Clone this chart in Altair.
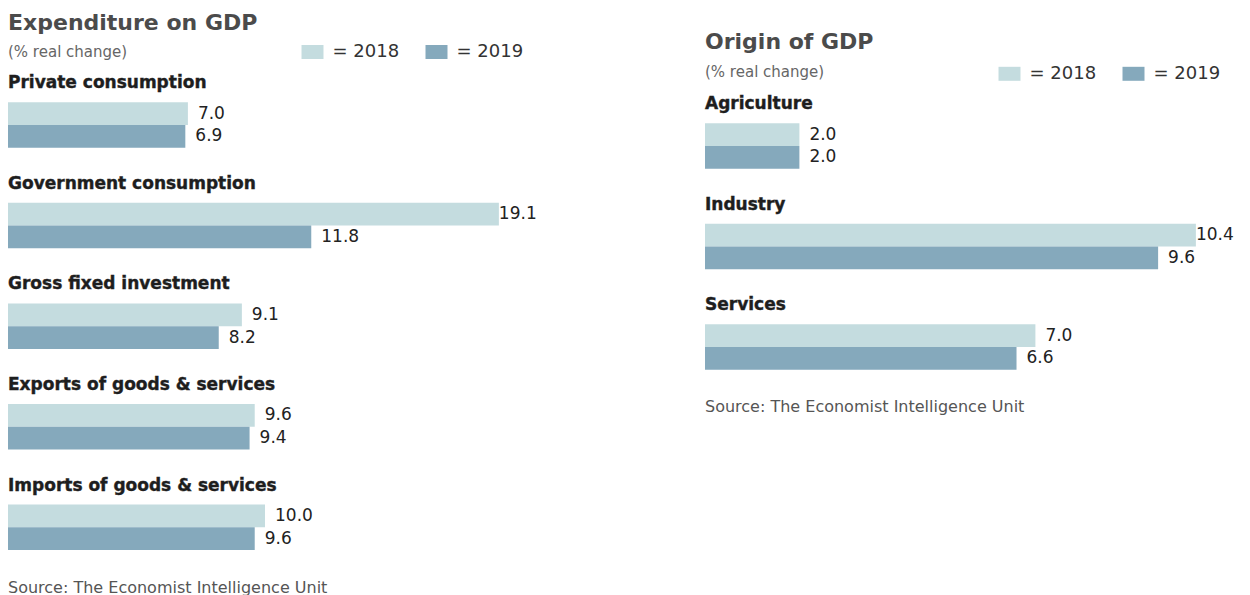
import altair as alt
import pandas as pd

# ---- data ----
years = ["2018", "2019"]

left_title = "Expenditure on GDP"
left_cats = [
    "Private consumption",
    "Government consumption",
    "Gross fixed investment",
    "Exports of goods & services",
    "Imports of goods & services",
]
left_2018 = [7.0, 19.1, 9.1, 9.6, 10.0]
left_2019 = [6.9, 11.8, 8.2, 9.4, 9.6]

right_title = "Origin of GDP"
right_cats = ["Agriculture", "Industry", "Services"]
right_2018 = [2.0, 10.4, 7.0]
right_2019 = [2.0, 9.6, 6.6]

subtitle = "(% real change)"
source = "Source: The Economist Intelligence Unit"

C18 = "#c4dcdf"
C19 = "#85a9bc"
FONT = "DejaVu Sans"
H = 587


def panel(title, cats, v18, v19, width, px_per_unit, yrange, pin,
          title_y, sub_y, legend_y, source_y):
    n = len(cats)
    df = pd.DataFrame({
        "cat": cats * 2,
        "year": [years[0]] * n + [years[1]] * n,
        "value": v18 + v19,
    })
    xs = alt.Scale(domain=[0, width / px_per_unit], nice=False, zero=True)
    ys = alt.Scale(range=list(yrange), paddingInner=pin, paddingOuter=0)
    base = alt.Chart(df)
    yenc = alt.Y("cat:N", sort=cats, scale=ys, axis=None)
    yoff = alt.YOffset("year:N", sort=years)

    bars = base.mark_bar().encode(
        x=alt.X("value:Q", scale=xs, axis=None),
        y=yenc,
        yOffset=yoff,
        color=alt.Color(
            "year:N",
            scale=alt.Scale(domain=years, range=[C18, C19]),
            legend=alt.Legend(
                title=None, orient="none", legendX=293.5, legendY=legend_y,
                direction="horizontal",
                symbolType="M-1,-0.636H1V0.636H-1Z", symbolSize=484,
                symbolStrokeWidth=0, symbolOpacity=1,
                labelFont=FONT, labelFontSize=18, labelColor="#333",
                labelOffset=9, columnPadding=26, padding=0,
                labelExpr="'= ' + datum.label",
            ),
        ),
    )

    agg = base.transform_joinaggregate(maxv="max(value)")
    txt_kw = dict(align="left", baseline="middle", font=FONT, fontSize=17, color="#222")
    vals = agg.transform_filter("datum.value < datum.maxv").mark_text(dx=10, **txt_kw).encode(
        x=alt.X("value:Q"), y=alt.Y("cat:N", sort=cats), yOffset=yoff,
        text=alt.Text("value:Q", format=".1f"),
    )
    vals_max = agg.transform_filter("datum.value >= datum.maxv").mark_text(dx=0, **txt_kw).encode(
        x=alt.X("value:Q"), y=alt.Y("cat:N", sort=cats), yOffset=yoff,
        text=alt.Text("value:Q", format=".1f"),
    )

    cat_df = pd.DataFrame({"cat": cats})
    cat_lbl = alt.Chart(cat_df).mark_text(
        align="left", baseline="alphabetic", dy=-14, font=FONT, fontSize=17,
        fontWeight="bold", color="#1e1e1e", stroke="#1e1e1e", strokeWidth=0.4,
    ).encode(
        x=alt.value(0),
        y=alt.Y("cat:N", sort=cats, bandPosition=0),
        text="cat:N",
    )

    t = alt.Chart(pd.DataFrame({"t": [title]})).mark_text(
        align="left", baseline="alphabetic", font=FONT, fontSize=22,
        fontWeight="bold", color="#4b4b4b",
    ).encode(x=alt.value(0), y=alt.value(title_y), text="t:N")
    st = alt.Chart(pd.DataFrame({"t": [subtitle]})).mark_text(
        align="left", baseline="middle", font=FONT, fontSize=15, color="#666",
    ).encode(x=alt.value(0), y=alt.value(sub_y), text="t:N")
    src = alt.Chart(pd.DataFrame({"t": [source]})).mark_text(
        align="left", baseline="middle", font=FONT, fontSize=16, color="#555",
    ).encode(x=alt.value(0), y=alt.value(source_y), text="t:N")

    return alt.layer(bars, vals, vals_max, cat_lbl, t, st, src).properties(
        width=width, height=H
    )


left = panel(left_title, left_cats, left_2018, left_2019, 560, 25.7,
             (94.3, 542.0), 0.548, 22, 44, 33, 580)
right = panel(right_title, right_cats, right_2018, right_2019, 537, 47.2,
              (115.3, 361.8), 0.547, 41, 64, 54.8, 399)

chart = alt.hconcat(left, right, spacing=137, bounds="flush").resolve_scale(
    x="independent", y="independent", color="independent", yOffset="independent"
).resolve_legend(color="independent").properties(padding=0).configure_view(stroke=None)

chart.save("out.html", embed_options={"renderer": "svg", "actions": False})
